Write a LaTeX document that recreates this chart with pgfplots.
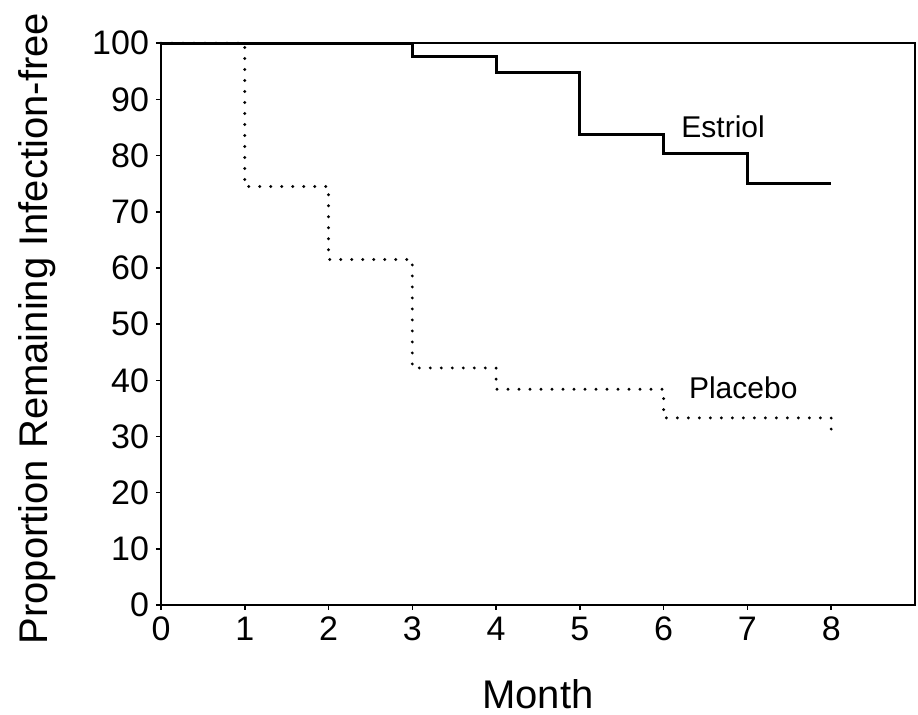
\documentclass[border=0pt]{standalone}
\usepackage{fontspec}
\setmainfont{Liberation Sans}
\usepackage{pgfplots}
\pgfplotsset{compat=1.18}

\begin{document}
\begin{tikzpicture}
\begin{axis}[
  scale only axis, width=377pt, height=280.85pt,
  xmin=0, xmax=9, ymin=0, ymax=100,
  xtick={0,...,8}, ytick={0,10,...,100},
  tick pos=left, tick align=outside, major tick length=2.5pt,
  axis line style={line width=0.9pt},
  every tick/.style={line width=0.8pt, black},
  tick label style={font=\fontsize{17}{20}\selectfont},
  /pgf/number format/assume math mode=true,
  xlabel={Month}, ylabel={Proportion Remaining Infection-free},
  label style={font=\fontsize{20}{24}\selectfont},
  xlabel style={at={(axis description cs:0.5,-0.185)}, anchor=base},
  ylabel style={at={(axis description cs:-0.1645,0.492)}, anchor=center},
  clip=false,
]
% Kaplan-Meier curves
\addplot[const plot, black, line width=1.5pt] coordinates {
  (0,100) (3,97.6) (4,94.8) (5,83.8) (6,80.3) (7,75.1) (8,75.1) };
\addplot[const plot, black, line width=1.6pt, line cap=round,
  dash pattern=on 0pt off 5.5pt] coordinates {
  (0,100) (1,74.5) (2,61.5) (3,42.2) (4,38.4) (6,33.3) (8,29.7) };

\node[font=\fontsize{15}{18}\selectfont] at (axis cs:6.71,85.1) {Estriol};
\node[font=\fontsize{15}{18}\selectfont] at (axis cs:6.95,38.6) {Placebo};

\coordinate (bl) at (rel axis cs:0,0);
\coordinate (tr) at (rel axis cs:1,1);
\end{axis}
\path (bl) ++(-80.5pt,-55pt) coordinate (a);
\path (tr) ++(1.5pt,21.65pt) coordinate (b);
\pgfresetboundingbox
\path (a) rectangle (b);
\end{tikzpicture}
\end{document}
